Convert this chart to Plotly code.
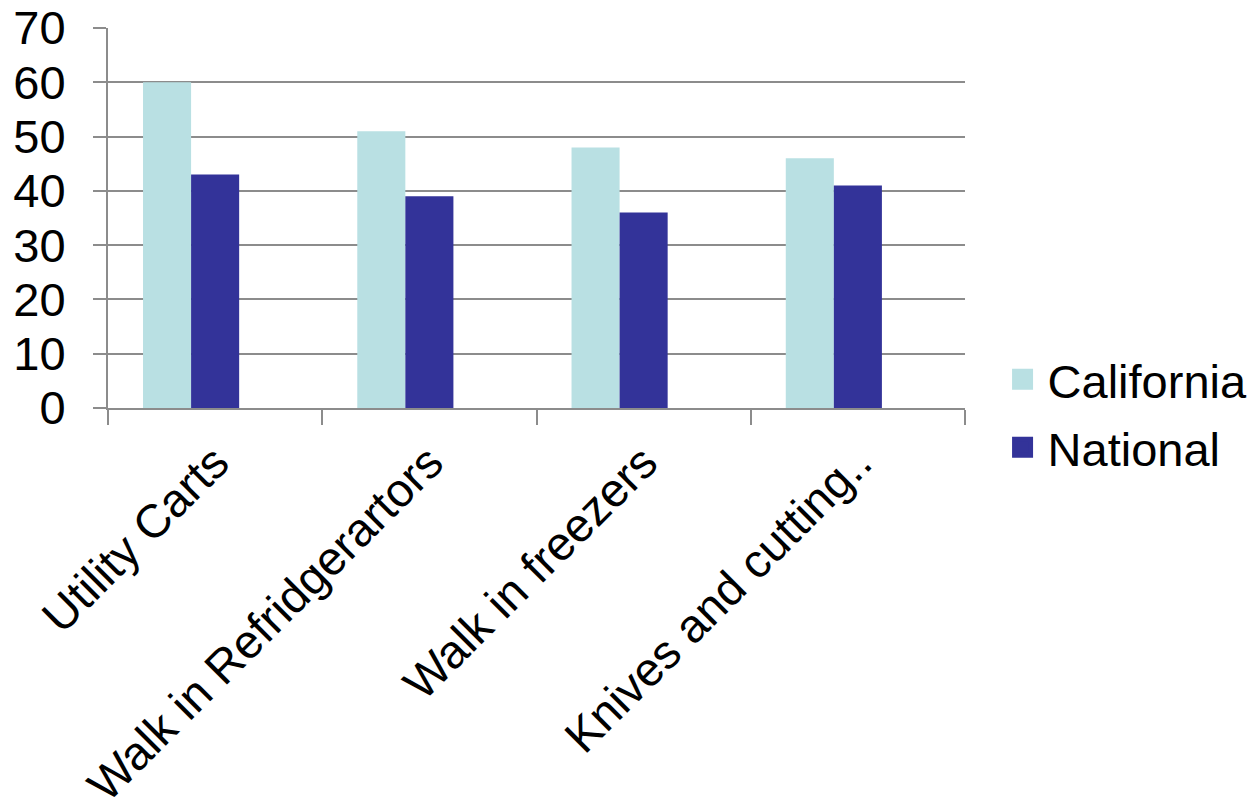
import plotly.graph_objects as go

categories = ["Utility Carts", "Walk in Refridgerartors", "Walk in freezers", "Knives and cutting.."]
california = [60, 51, 48, 46]
national = [43, 39, 36, 41]
empty_series = [None, None, None, None]
y_ticks = [0, 10, 20, 30, 40, 50, 60, 70]

CA_COLOR = "#B9E0E3"
NAT_COLOR = "#333399"
GRID = "#8C8C8C"
FONT = "Liberation Sans, Arial, sans-serif"
FS = 47

fig = go.Figure()
fig.add_trace(go.Bar(x=categories, y=california, name="California",
                     marker=dict(color=CA_COLOR, line=dict(width=0)), showlegend=False))
fig.add_trace(go.Bar(x=categories, y=national, name="National",
                     marker=dict(color=NAT_COLOR, line=dict(width=0)), showlegend=False))
# third (empty) series slot, as in the original chart
fig.add_trace(go.Bar(x=categories, y=empty_series, name="",
                     marker=dict(color="white", line=dict(width=0)), showlegend=False,
                     hoverinfo="skip"))
# legend proxies with large square swatches
fig.add_trace(go.Scatter(x=[None], y=[None], mode="markers", name="California",
                         legendgroup="a",
                         marker=dict(symbol="square", size=16, color=CA_COLOR,
                                     line=dict(width=8, color=CA_COLOR))))
fig.add_trace(go.Scatter(x=[None], y=[None], mode="markers", name="National",
                         legendgroup="b",
                         marker=dict(symbol="square", size=16, color=NAT_COLOR,
                                     line=dict(width=8, color=NAT_COLOR))))

fig.update_layout(
    width=1255, height=812,
    margin=dict(l=108, r=290, t=28, b=404, autoexpand=False),
    paper_bgcolor="white", plot_bgcolor="white",
    font=dict(family=FONT, size=FS, color="black"),
    barmode="group", bargap=0.327, bargroupgap=0,
    showlegend=True,
    legend=dict(x=1.038, y=-0.015, xanchor="left", yanchor="middle",
                font=dict(size=FS), itemsizing="trace", tracegroupgap=4,
                itemwidth=40, bgcolor="rgba(0,0,0,0)"),
    xaxis=dict(
        type="category", tickangle=-45, tickson="boundaries",
        ticks="outside", ticklen=15, tickwidth=2, tickcolor=GRID,
        showline=True, linecolor=GRID, linewidth=2,
        showgrid=False, ticklabelstandoff=6, automargin=False,
        tickfont=dict(size=FS),
    ),
    yaxis=dict(
        range=[0, 70], tickvals=y_ticks,
        ticks="outside", ticklen=13, tickwidth=2, tickcolor=GRID,
        showline=True, linecolor=GRID, linewidth=2,
        showgrid=True, gridcolor=GRID, gridwidth=2,
        zeroline=False, tickfont=dict(size=FS),
        ticklabelstandoff=18, automargin=False,
    ),
)

fig.write_html("out.html")
